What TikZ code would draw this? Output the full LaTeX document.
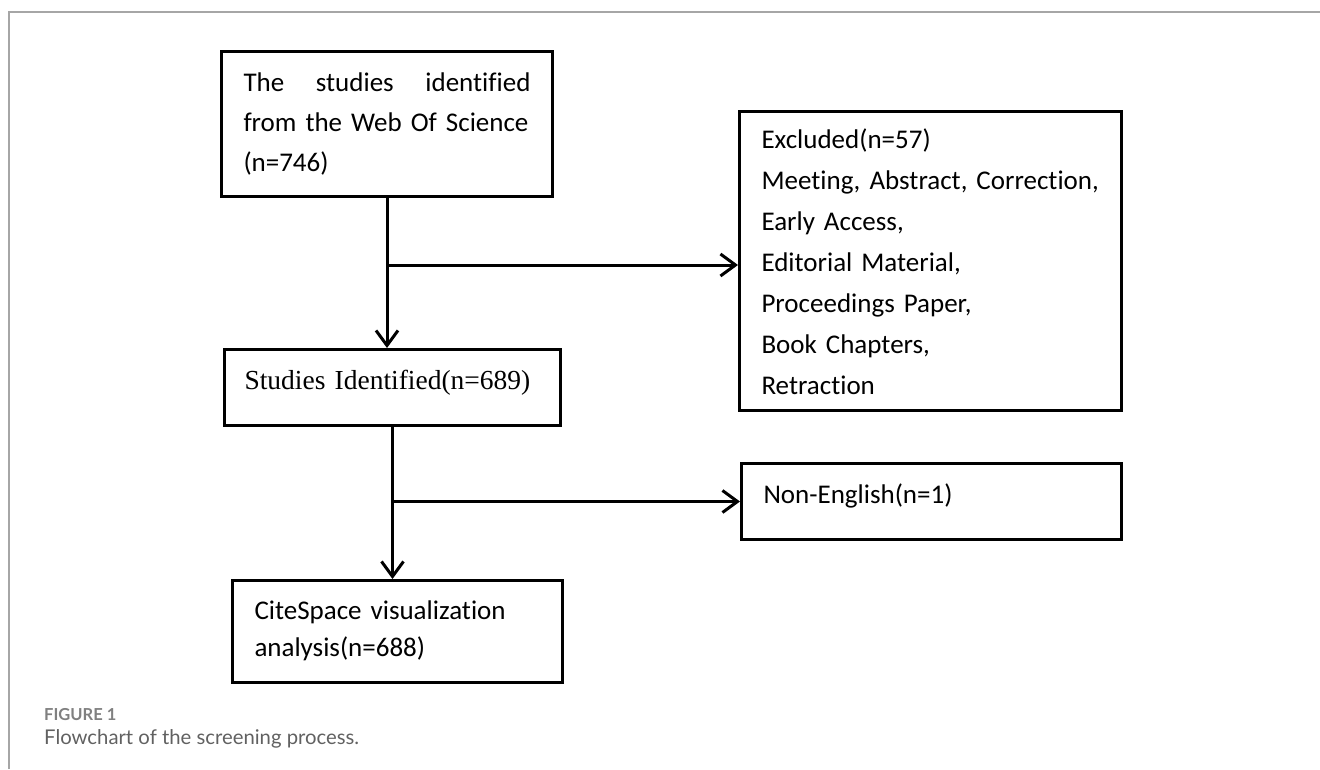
\documentclass[tikz,border=0pt]{standalone}
\usepackage{fontspec}
\setmainfont[Ligatures=NoCommon]{Carlito}
\newfontfamily\serifbox[Ligatures=NoCommon]{Liberation Serif}
\newfontfamily\capfont[Ligatures=NoCommon]{Lato}
\usetikzlibrary{arrows.meta}
\begin{document}
\begin{tikzpicture}[x=1pt,y=-1pt,
  box/.style={draw=black, line width=3pt, rectangle, anchor=north west,
    inner ysep=0pt, align=left, font=\fontsize{27}{40}\selectfont},
  conn/.style={line width=3pt, -{Straight Barb[length=15pt,width=22pt,line width=3pt]}},
  plain/.style={line width=3pt}
]
\useasboundingbox (0,0) rectangle (1320,769);
\draw[black!35, line width=1.5pt] (9,769) -- (9,12) -- (1320,12);

\node[box, inner xsep=22pt, text width=287pt, text height=40pt, text depth=105pt] (b1) at (220,50)
  {The\hfill studies\hfill identified\\from the Web Of Science\\(n=746)};
\node[box, inner xsep=20pt, text width=296pt, text height=40pt, text depth=36pt,
  font=\serifbox\fontsize{27.5}{40}\selectfont] (b2) at (223,348)
  {Studies Identified(n=689)};
\node[box, inner xsep=22pt, text width=286pt, text height=39pt, text depth=63pt,
  font=\fontsize{27}{37}\selectfont] (b4) at (231,579)
  {CiteSpace visualization\\analysis(n=688)};
\node[box, inner xsep=22pt, text width=338pt, text height=37pt, text depth=262pt,
  font=\fontsize{27}{41}\selectfont] (b3) at (738,110)
  {Excluded(n=57)\\Meeting, Abstract, Correction,\\Early Access,\\Editorial Material,\\Proceedings Paper,\\Book Chapters,\\Retraction};
\node[box, inner xsep=22pt, text width=336pt, text height=40pt, text depth=36pt] (b5) at (740,462)
  {Non-English(n=1)};

\draw[conn] (b1.south) -- (b1.south |- b2.north);
\coordinate (j1) at (b1.south |- 0,265);
\draw[conn] (j1) -- (j1 -| b3.west);

\draw[conn] (b2.south) -- (b2.south |- b4.north);
\coordinate (j2) at (b2.south |- b5.west);
\draw[conn] (j2) -- (b5.west);

\node[anchor=base west, inner sep=0pt, text=black!50,
  font=\capfont\bfseries\fontsize{16.5}{16}\selectfont] (fig) at (44,720) {FIGURE 1};
\node[anchor=base west, inner sep=0pt, text=black!62,
  font=\capfont\fontsize{20.3}{20}\selectfont] (cap) at (44,744) {Flowchart of the screening process.};
\end{tikzpicture}
\end{document}
